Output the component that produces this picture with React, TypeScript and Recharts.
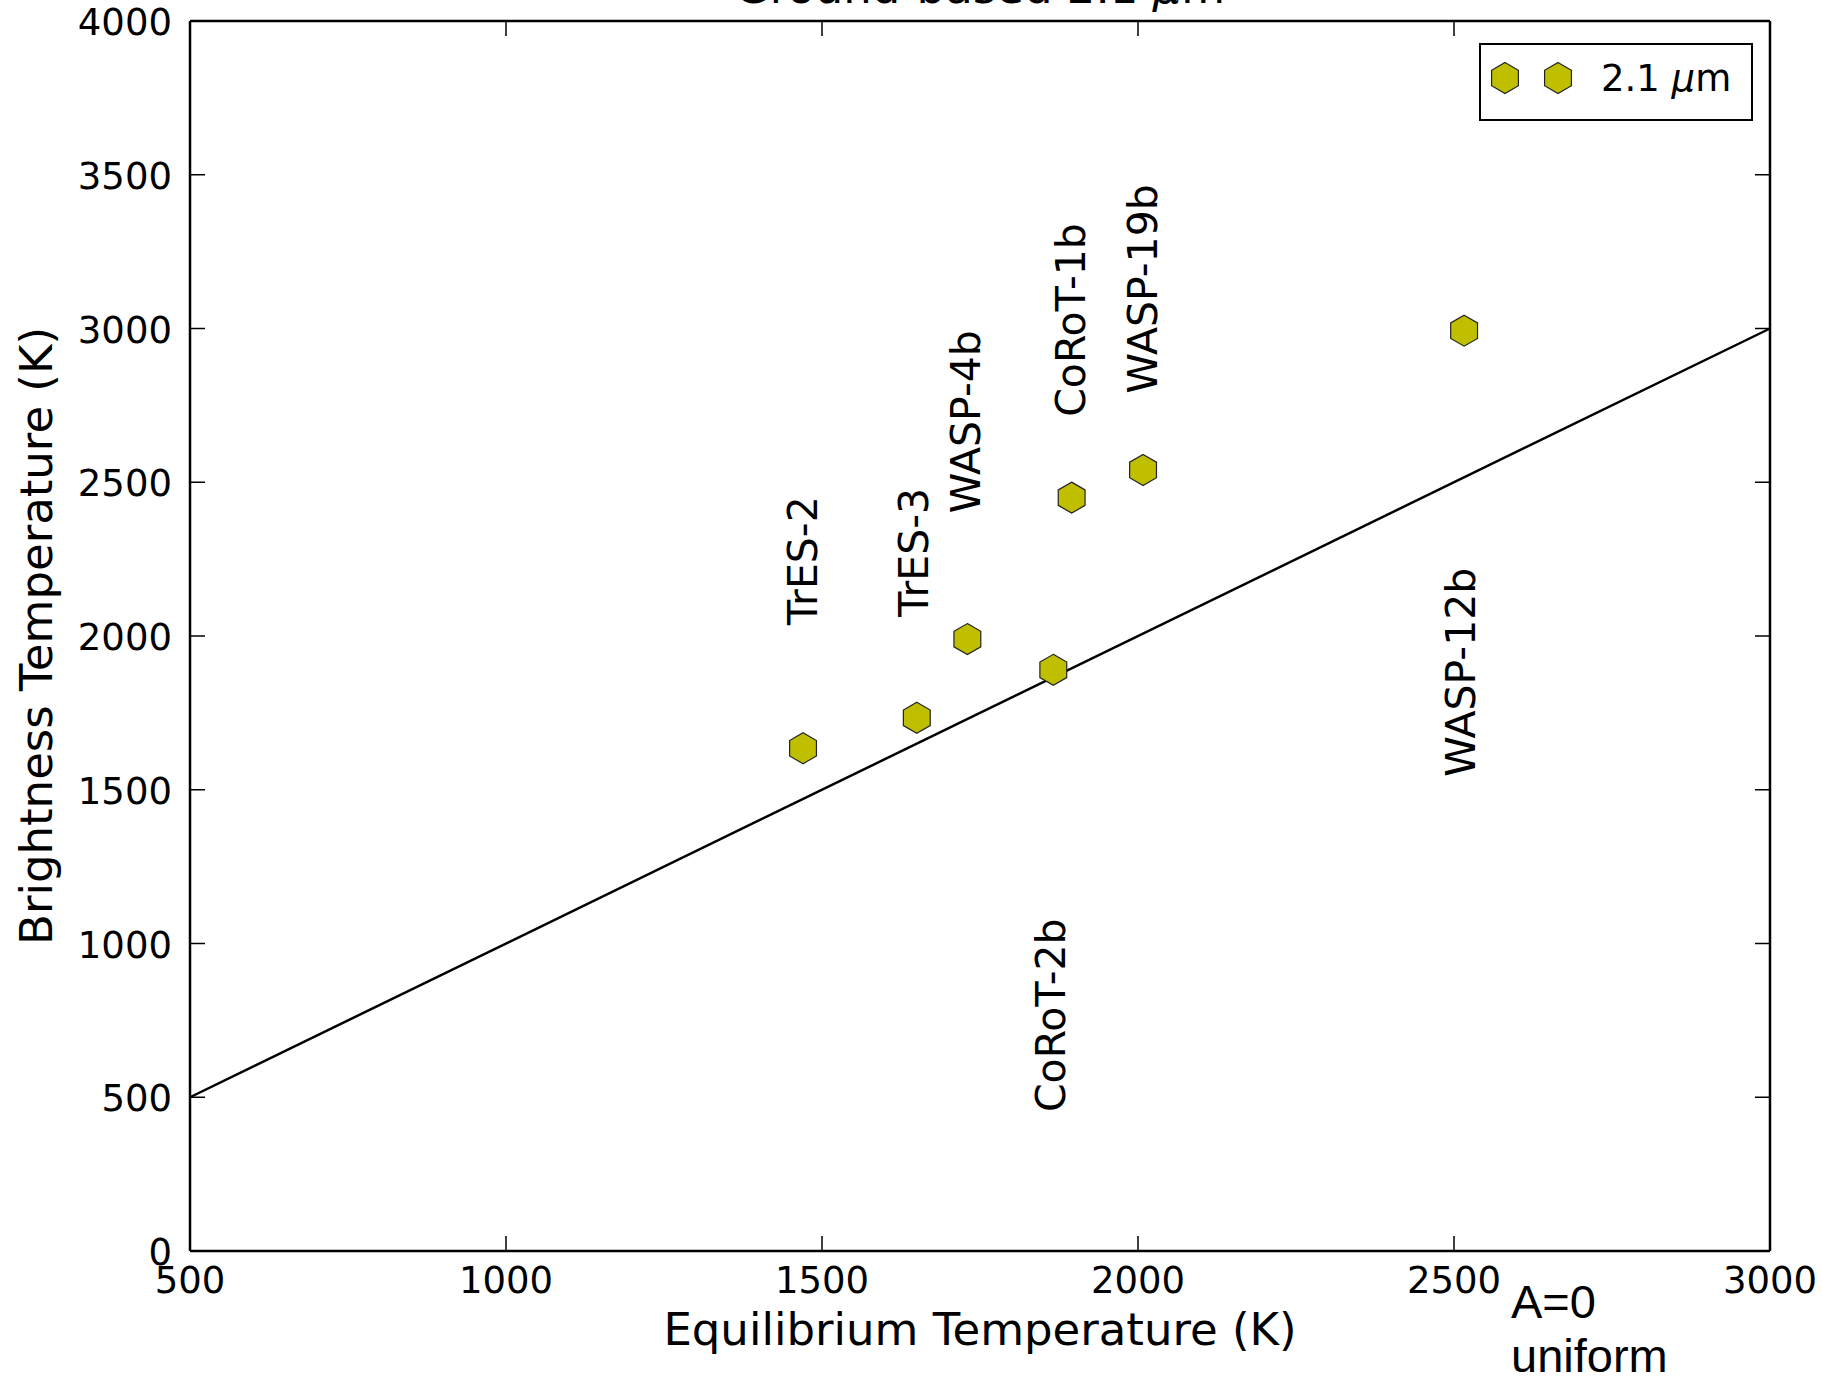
import { Label, Legend, ReferenceLine, Scatter, ScatterChart, XAxis, YAxis } from 'recharts'

// planets: equilibrium temperature vs 2.1 micron brightness temperature
const planetNames = ['TrES-2', 'TrES-3', 'WASP-4b', 'CoRoT-2b', 'CoRoT-1b', 'WASP-19b', 'WASP-12b']
const teq = [1470, 1650, 1730, 1866, 1895, 2008, 2516]
const tb = [1635, 1734, 1990, 1890, 2450, 2540, 2993]

// where each name is written (baseline x, start y) in data units
const nameX = [1492, 1668, 1750, 1885, 1916, 2030, 2533]
const nameY = [2036, 2063, 2399, 452, 2713, 2789, 1542]

const xTicks = [500, 1000, 1500, 2000, 2500, 3000]
const yTicks = [0, 500, 1000, 1500, 2000, 2500, 3000, 3500, 4000]
const equalLine = [
  { x: 500, y: 500 },
  { x: 3000, y: 3000 },
]

const points = teq.map((t, i) => ({ name: planetNames[i], teq: t, tb: tb[i] }))
const names = nameX.map((x, i) => ({ name: planetNames[i], teq: x, tb: nameY[i] }))

const FONT = 'DejaVu Sans, Bitstream Vera Sans, sans-serif'
const INK = '#000'
const YELLOW = '#bfbf00'
const TICK = 15

function hexPoints(cx: number, cy: number, r: number) {
  return [0, 1, 2, 3, 4, 5]
    .map((i) => {
      const a = (Math.PI / 180) * (60 * i - 90)
      return `${cx + r * Math.cos(a)},${cy + r * Math.sin(a)}`
    })
    .join(' ')
}

const Hexagon = (props: any) => {
  const { cx, cy } = props
  if (cx == null || cy == null) return <g />
  return <polygon points={hexPoints(cx, cy, 15.5)} fill={YELLOW} stroke="#222" strokeWidth={1.2} />
}

const PlanetName = (props: any) => {
  const { cx, cy, payload } = props
  if (cx == null || cy == null) return <g />
  return (
    <text
      x={cx}
      y={cy}
      transform={`rotate(-90 ${cx} ${cy})`}
      fontFamily={FONT}
      fontSize={41}
      fill={INK}
      textAnchor="start"
    >
      {payload.name}
    </text>
  )
}

const BottomTick = (props: any) => {
  const { x, y, payload } = props
  return (
    <g>
      <line x1={x} y1={y} x2={x} y2={y - TICK} stroke={INK} strokeWidth={1.5} />
      <text x={x} y={y + 42} textAnchor="middle" fontFamily={FONT} fontSize={37} fill={INK}>
        {payload.value}
      </text>
    </g>
  )
}

const TopTick = (props: any) => {
  const { x, y } = props
  return <line x1={x} y1={y} x2={x} y2={y + TICK} stroke={INK} strokeWidth={1.5} />
}

const LeftTick = (props: any) => {
  const { x, y, payload } = props
  return (
    <g>
      <line x1={x} y1={y} x2={x + TICK} y2={y} stroke={INK} strokeWidth={1.5} />
      <text x={x - 18} y={y + 14} textAnchor="end" fontFamily={FONT} fontSize={37} fill={INK}>
        {payload.value}
      </text>
    </g>
  )
}

const RightTick = (props: any) => {
  const { x, y } = props
  return <line x1={x} y1={y} x2={x - TICK} y2={y} stroke={INK} strokeWidth={1.5} />
}

const LegendBox = () => (
  <svg width={274} height={78} style={{ display: 'block' }}>
    <rect x={1} y={1} width={272} height={76} fill="#fff" stroke={INK} strokeWidth={2} />
    <polygon points={hexPoints(26, 35, 15.5)} fill={YELLOW} stroke="#222" strokeWidth={1.2} />
    <polygon points={hexPoints(79, 35, 15.5)} fill={YELLOW} stroke="#222" strokeWidth={1.2} />
    <text x={122} y={48} fontFamily={FONT} fontSize={37} fill={INK}>
      2.1 <tspan fontStyle="italic">μ</tspan>m
    </text>
  </svg>
)

export default function App() {
  return (
    <div style={{ position: 'absolute', left: 0, top: 0, background: '#fff' }}>
      <ScatterChart width={1822} height={1382} margin={{ top: 20, right: 51, bottom: 0, left: 0 }}>
        <XAxis
          xAxisId="bottom"
          dataKey="teq"
          type="number"
          orientation="bottom"
          domain={[500, 3000]}
          ticks={xTicks}
          allowDataOverflow
          interval={0}
          height={131}
          tickSize={0}
          tickMargin={0}
          tickLine={false}
          tick={<BottomTick />}
          axisLine={{ stroke: INK, strokeWidth: 2.5 }}
        >
          <Label
            content={(p: any) => (
              <g>
                <text
                  x={p.viewBox.x + p.viewBox.width / 2}
                  y={p.viewBox.y + 94}
                  textAnchor="middle"
                  fontFamily={FONT}
                  fontSize={45}
                  fill={INK}
                >
                  Equilibrium Temperature (K)
                </text>
                <text x={p.viewBox.x + 1321} y={p.viewBox.y + 67} fontFamily="Liberation Sans, Arial, sans-serif" fontSize={47} fill={INK}>
                  A=0
                </text>
                <text x={p.viewBox.x + 1321} y={p.viewBox.y + 121} fontFamily="Liberation Sans, Arial, sans-serif" fontSize={47} fill={INK}>
                  uniform
                </text>
              </g>
            )}
          />
        </XAxis>
        <XAxis
          xAxisId="top"
          dataKey="teq"
          type="number"
          orientation="top"
          domain={[500, 3000]}
          ticks={xTicks}
          allowDataOverflow
          interval={0}
          height={1}
          tickSize={0}
          tickMargin={0}
          tickLine={false}
          tick={<TopTick />}
          axisLine={{ stroke: INK, strokeWidth: 2.5 }}
        >
          <Label
            content={(p: any) => (
              <text
                x={p.viewBox.x + p.viewBox.width / 2}
                y={p.viewBox.y - 17}
                textAnchor="middle"
                fontFamily={FONT}
                fontSize={45}
                fill={INK}
              >
                Ground-based 2.1 <tspan fontStyle="italic">μ</tspan>m
              </text>
            )}
          />
        </XAxis>
        <YAxis
          yAxisId="left"
          dataKey="tb"
          type="number"
          orientation="left"
          domain={[0, 4000]}
          ticks={yTicks}
          allowDataOverflow
          interval={0}
          width={190}
          tickSize={0}
          tickMargin={0}
          tickLine={false}
          tick={<LeftTick />}
          axisLine={{ stroke: INK, strokeWidth: 2.5 }}
        >
          <Label
            content={(p: any) => {
              const cx = p.viewBox.x + 52
              const cy = p.viewBox.y + p.viewBox.height / 2
              return (
                <text
                  x={cx}
                  y={cy}
                  transform={`rotate(-90 ${cx} ${cy})`}
                  textAnchor="middle"
                  fontFamily={FONT}
                  fontSize={45}
                  fill={INK}
                >
                  Brightness Temperature (K)
                </text>
              )
            }}
          />
        </YAxis>
        <YAxis
          yAxisId="right"
          dataKey="tb"
          type="number"
          orientation="right"
          domain={[0, 4000]}
          ticks={yTicks}
          allowDataOverflow
          interval={0}
          width={1}
          tickSize={0}
          tickMargin={0}
          tickLine={false}
          tick={<RightTick />}
          axisLine={{ stroke: INK, strokeWidth: 2.5 }}
        />
        <ReferenceLine
          xAxisId="bottom"
          yAxisId="left"
          segment={equalLine}
          stroke={INK}
          strokeWidth={2.5}
        />
        <Scatter
          name="names"
          xAxisId="top"
          yAxisId="right"
          data={names}
          shape={<PlanetName />}
          legendType="none"
          isAnimationActive={false}
        />
        <Scatter
          name="2.1 μm"
          xAxisId="bottom"
          yAxisId="left"
          data={points}
          shape={<Hexagon />}
          isAnimationActive={false}
        />
        <Legend
          layout="horizontal"
          align="center"
          verticalAlign="middle"
          wrapperStyle={{ left: 1479, top: 43, width: 274, height: 78 }}
          content={() => <LegendBox />}
        />
      </ScatterChart>
    </div>
  )
}
